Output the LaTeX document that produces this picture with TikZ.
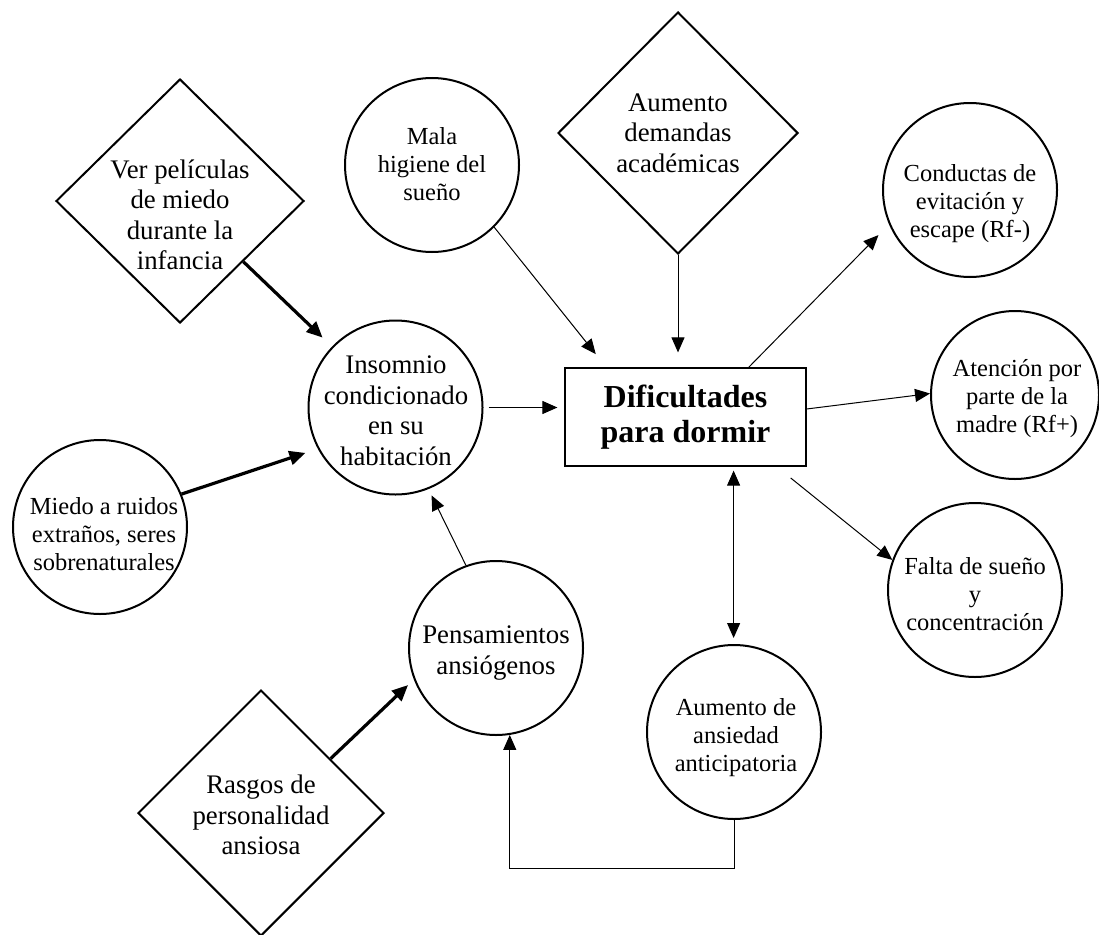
\documentclass[tikz,border=0pt]{standalone}
\usepackage{fontspec}
\setmainfont{Liberation Serif}
\usetikzlibrary{arrows.meta,calc,shapes.geometric}

\tikzset{
	circ/.style={circle, draw, line width=2pt, minimum size=174pt, inner sep=0pt},
	diam/.style 2 args={diamond, draw, line width=2pt, minimum width=#1, minimum height=#2, inner sep=0pt},
	box/.style={draw, line width=1.2pt, minimum width=241pt, minimum height=98pt, align=center, font=\fontsize{32}{35}\selectfont\bfseries},
	txt/.style={align=center, inner sep=0pt, font=\fontsize{24.5}{28}\selectfont},
	bigtxt/.style={align=center, inner sep=0pt, font=\fontsize{26.8}{30.5}\selectfont},
	arr/.style={-{Triangle[length=15pt,width=13pt]}, line width=1pt},
	thickarr/.style={-{Triangle[length=16pt,width=14pt]}, line width=3.2pt},
	dblarr/.style={{Triangle[length=15pt,width=13pt]}-{Triangle[length=15pt,width=13pt]}, line width=1pt}
}

\begin{document}
\begin{tikzpicture}[x=1pt,y=-1pt]
	%%%%% START %%%%%
	\useasboundingbox (0,0) rectangle (1099,934);
	
	\node[box] (main) at (685.5,417) {Dificultades\\para dormir};
	
	\node[diam={248pt}{244pt}] (ver) at (180,201) {};
	\node[bigtxt] (vertxt) at (180,215) {Ver películas\\de miedo\\durante la\\infancia};
	
	\node[diam={240pt}{242pt}] (dem) at (678,133) {};
	\node[bigtxt] (demtxt) at (678,133) {Aumento\\demandas\\académicas};
	
	\node[diam={246pt}{246pt}] (ras) at (261,813) {};
	\node[bigtxt] (rastxt) at (261,815) {Rasgos de\\personalidad\\ansiosa};
	
	\node[circ] (mala) at (432,165) {};
	\node[txt] (malatxt) at (432,164) {Mala\\higiene del\\sueño};
	
	\node[circ] (cond) at (970,190) {};
	\node[txt] (condtxt) at (970,204) {Conductas de\\evitación y\\escape (Rf-)};
	
	\node[circ, minimum size=168pt] (aten) at (1015,395) {};
	\node[txt] (atentxt) at (1017,399) {Atención por\\parte de la\\madre (Rf+)};
	
	\node[circ] (falta) at (975,590) {};
	\node[txt] (faltatxt) at (975,594) {Falta de sueño\\y\\concentración};
	
	\node[circ] (inso) at (395.5,407.5) {};
	\node[bigtxt] (insotxt) at (396,411) {Insomnio\\condicionado\\en su\\habitación};
	
	\node[circ] (miedo) at (100,527) {};
	\node[txt] (miedotxt) at (104,534) {Miedo a ruidos\\extraños, seres\\sobrenaturales};
	
	\node[circ] (pens) at (496,648) {};
	\node[bigtxt] (penstxt) at (496,653) {Pensamientos\\ansiógenos};
	
	\node[circ] (ansi) at (734,732) {};
	\node[txt] (ansitxt) at (736,738) {Aumento de\\ansiedad\\anticipatoria};
	
	% causas
	\draw[thickarr, shorten >=13pt] (ver) -- (inso);
	\draw[thickarr, shorten >=13pt] (miedo.22) -- (inso.208);
	\draw[thickarr, shorten >=8pt] (ras.38) -- (pens.201);
	\draw[arr, shorten >=7pt] (pens.110) -- (inso.-68);
	\draw[arr, shorten <=5pt, shorten >=7pt] (inso.east) -- (inso.east -| main.west);
	\draw[arr, shorten >=17pt] (mala.-45) -- ($(main.north west)+(42,0)$);
	\draw[arr, shorten >=15pt] (dem.south) -- (dem.south |- main.north);
	
	% consecuencias
	\draw[arr, shorten >=15pt] ($(main.north east)+(-58,0)$) -- (cond.203);
	\draw[arr] ($(main.east)+(0,-8)$) -- (aten.179);
	\draw[arr, shorten <=18pt] ($(main.south east)+(-30,0)$) -- (falta.160);
	\coordinate (mainbot) at ($(main.south east)+(-73,0)$);
	\draw[dblarr, shorten <=4pt, shorten >=6pt] (mainbot) -- (mainbot |- ansi.north);
	\draw[arr] (ansi.south) -- ++(0,48) -| (pens.-81);
	
	%%%%% END %%%%%
\end{tikzpicture}
\end{document}
